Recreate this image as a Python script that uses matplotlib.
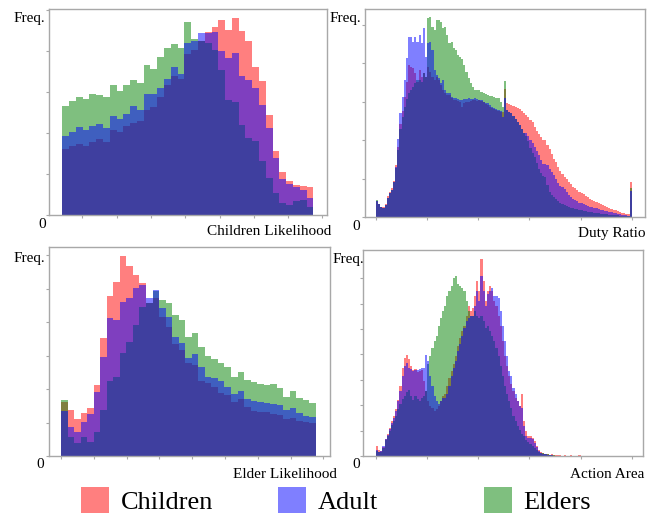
import matplotlib
matplotlib.use('Agg')
import matplotlib.pyplot as plt
import numpy as np

plt.rcParams['font.family'] = ['Liberation Serif', 'DejaVu Serif']

W, H = 663, 515

# ---- panel 1: Children Likelihood (37 bins) ----
cl_children = [66, 69, 71, 69, 73, 76, 73, 85, 83, 89, 92, 94, 105, 108, 118, 130, 139, 136, 161, 165,
               174, 183, 188, 195, 185, 197, 184, 174, 148, 134, 100, 64, 43, 34, 30, 29, 28]
cl_adult = [79, 83, 88, 85, 89, 91, 87, 99, 96, 101, 109, 105, 121, 121, 127, 136, 148, 141, 172, 174,
            182, 182, 183, 164, 157, 162, 139, 135, 127, 110, 87, 57, 36, 31, 28, 25, 17]
cl_elders = [109, 114, 118, 116, 121, 120, 118, 130, 124, 130, 135, 132, 150, 146, 158, 167, 171, 167, 193, 176,
             174, 172, 165, 145, 115, 113, 90, 77, 74, 54, 37, 22, 12, 10, 14, 15, 8]

# ---- panel 2: Duty Ratio (120 bins) ----
dr_children = [16, 13, 10, 10, 13, 21, 25, 29, 36, 52, 70, 93, 106, 120, 135, 152, 150, 149, 144, 135,
               147, 140, 144, 140, 150, 145, 140, 137, 140, 137, 132, 127, 124, 122, 122, 119, 117, 117, 116, 115,
               110, 114, 115, 115, 116, 117, 117, 116, 117, 116, 115, 113, 112, 110, 109, 108, 107, 106, 105, 105,
               128, 114, 113, 112, 111, 110, 109, 108, 106, 104, 102, 100, 97, 95, 90, 86, 83, 80, 77, 77,
               72, 68, 63, 58, 55, 50, 46, 43, 40, 38, 35, 33, 30, 29, 27, 25, 24, 23, 21, 20,
               18, 17, 16, 15, 14, 13, 12, 11, 10, 9, 8, 7, 7, 6, 5, 4, 4, 3, 3, 35]
dr_adult = [16, 13, 10, 9, 12, 19, 24, 27, 35, 50, 78, 104, 120, 137, 159, 180, 180, 175, 180, 175,
            182, 174, 189, 160, 174, 175, 167, 147, 142, 139, 134, 137, 127, 124, 124, 120, 119, 119, 118, 117,
            117, 118, 118, 119, 118, 118, 119, 118, 117, 117, 115, 114, 114, 112, 110, 109, 108, 107, 106, 100,
            119, 107, 105, 104, 101, 98, 95, 92, 88, 84, 84, 81, 77, 74, 70, 66, 62, 57, 53, 53,
            52, 48, 45, 42, 38, 34, 31, 30, 28, 25, 22, 20, 18, 17, 16, 14, 14, 13, 12, 11,
            10, 10, 9, 9, 8, 7, 7, 6, 6, 5, 5, 4, 4, 3, 3, 2, 2, 2, 1, 26]
dr_elders = [17, 13, 10, 9, 12, 19, 24, 27, 35, 49, 67, 88, 100, 110, 118, 124, 127, 130, 134, 137,
             137, 135, 144, 140, 199, 200, 190, 187, 197, 197, 195, 189, 190, 182, 174, 175, 169, 167, 162, 160,
             158, 152, 145, 139, 134, 130, 127, 127, 127, 125, 124, 123, 122, 121, 121, 120, 119, 119, 115, 110,
             136, 107, 105, 104, 101, 98, 95, 92, 88, 84, 81, 76, 69, 64, 60, 54, 48, 44, 41, 40,
             32, 25, 22, 20, 18, 16, 14, 13, 12, 11, 10, 9, 9, 8, 8, 7, 7, 6, 6, 5,
             5, 5, 4, 4, 4, 3, 3, 3, 3, 2, 2, 2, 2, 2, 1, 1, 1, 1, 1, 29]

# ---- panel 3: Elder Likelihood (39 bins) ----
el_children = [54, 46, 37, 43, 48, 71, 118, 160, 174, 200, 190, 181, 173, 153, 158, 139, 129, 112, 106, 93,
               91, 75, 73, 69, 63, 61, 54, 57, 49, 45, 44, 44, 42, 41, 37, 38, 35, 34, 33]
el_adult = [45, 29, 24, 34, 42, 64, 99, 138, 136, 154, 158, 168, 171, 158, 166, 148, 139, 119, 113, 98,
            102, 89, 79, 78, 75, 69, 62, 65, 57, 55, 54, 53, 52, 51, 46, 48, 43, 40, 39]
el_elders = [56, 19, 13, 19, 14, 24, 46, 75, 79, 103, 114, 131, 149, 153, 165, 156, 153, 141, 136, 119,
             123, 109, 100, 97, 93, 89, 79, 84, 76, 74, 72, 71, 72, 68, 59, 65, 58, 56, 53]

# ---- panel 4: Action Area (120 bins) ----
aa_children = [10, 6, 5, 9, 17, 22, 28, 35, 40, 47, 56, 70, 88, 98, 101, 97, 90, 86, 87, 84,
               85, 86, 75, 65, 55, 50, 48, 45, 47, 50, 55, 60, 62, 70, 78, 85, 92, 100, 110, 118,
               125, 130, 140, 150, 145, 148, 160, 175, 165, 197, 175, 155, 165, 170, 165, 155, 150, 140, 130, 115,
               100, 90, 80, 72, 65, 58, 55, 50, 62, 35, 25, 20, 20, 18, 15, 10, 6, 4, 3, 2,
               2, 1, 2, 1, 1, 1, 1, 0, 1, 0, 0, 1, 0, 0, 0, 1] + [0] * 24
aa_adult = [6, 4, 5, 10, 17, 21, 27, 33, 38, 45, 55, 65, 80, 90, 93, 88, 87, 85, 86, 86,
            87, 88, 88, 101, 95, 80, 70, 60, 55, 52, 55, 58, 58, 62, 70, 80, 88, 95, 105, 112,
            120, 128, 135, 138, 140, 140, 150, 165, 155, 180, 165, 150, 162, 165, 168, 160, 160, 158, 145, 130,
            115, 100, 85, 80, 68, 62, 55, 50, 48, 30, 20, 18, 18, 17, 13, 9, 5, 3, 2, 2,
            1, 1, 1] + [0] * 37
aa_elders = [5, 4, 4, 8, 16, 20, 25, 31, 35, 40, 47, 52, 57, 60, 64, 66, 60, 56, 60, 57,
             55, 58, 60, 65, 92, 100, 108, 115, 120, 130, 138, 145, 150, 160, 165, 170, 178, 180, 172, 170,
             168, 165, 155, 145, 140, 140, 145, 140, 138, 140, 135, 128, 130, 125, 120, 115, 108, 100, 90, 80,
             70, 62, 55, 48, 40, 35, 30, 26, 22, 20, 16, 14, 12, 10, 8, 6, 4, 3, 3, 2,
             2, 1, 1, 1] + [0] * 36

names = ['Children', 'Adult', 'Elders']
colors = {'Children': 'red', 'Adult': 'blue', 'Elders': 'green'}
draw_order = ['Children', 'Elders', 'Adult']
GRAY = '#a8a8a8'


def px(x, y):
    return x / W, 1 - y / H


def panel(box, series, xlim, xticks, ylim, ystep, nyt):
    l, t, r, b = box
    ax = fig.add_axes([l / W, 1 - b / H, (r - l) / W, (b - t) / H])
    n = len(series['Children'])
    edges = np.linspace(0, 1, n + 1)
    hs = {}
    for k in draw_order:
        _, _, p = ax.hist(edges[:-1], bins=edges, weights=series[k], histtype='stepfilled',
                          color=colors[k], alpha=0.5, lw=0)
        hs[k] = p[0]
    ax.set_xlim(*xlim)
    ax.set_ylim(0, ylim)
    ax.set_xticks(xticks)
    ax.set_yticks(np.arange(nyt) * ystep)
    ax.tick_params(direction='out', length=2.5, width=0.8, color=GRAY,
                   labelleft=False, labelbottom=False)
    for s in ax.spines.values():
        s.set_color(GRAY)
        s.set_linewidth(1.0)
    return ax, hs


fig = plt.figure(figsize=(W / 100, H / 100), dpi=100)

ax1, hs = panel((49, 9, 327, 215),
                {'Children': cl_children, 'Adult': cl_adult, 'Elders': cl_elders},
                ((49 - 62.3) / 251, (327 - 62.3) / 251), 0.08 + np.arange(8) * 0.1366, 206, 41, 6)
ax2, _ = panel((365, 9, 645, 217),
               {'Children': dr_children, 'Adult': dr_adult, 'Elders': dr_elders},
               (-0.043, 1.052), np.linspace(0, 1, 6), 208, 38.5, 6)
ax3, _ = panel((49, 247, 330, 456),
               {'Children': el_children, 'Adult': el_adult, 'Elders': el_elders},
               (-0.047, 1.055), np.arange(9) * 0.1286, 209, 33.5, 7)
ax4, _ = panel((363, 250, 643, 456),
               {'Children': aa_children, 'Adult': aa_adult, 'Elders': aa_elders},
               (-0.051, 1.044), np.linspace(0, 1, 6), 206, 25.4, 8)

fs = 11
# (Freq. right/top), (0 centre), (xlabel right/centre)
labels = [((45, 12), (42.5, 224.5), (331, 231.5), 'Children Likelihood'),
          ((361, 12), (356.5, 227), (646, 233), 'Duty Ratio'),
          ((45, 252), (40, 464.5), (337, 474), 'Elder Likelihood'),
          ((364, 253), (356, 464.5), (644, 474), 'Action Area')]
for fq, zero, xl, txt in labels:
    fig.text(*px(*fq), 'Freq.', ha='right', va='top', fontsize=fs)
    fig.text(*px(*zero), '0', ha='center', va='center', fontsize=fs)
    fig.text(*px(*xl), txt, ha='right', va='center', fontsize=fs)

# legend entries, placed separately to follow the uneven spacing
for name, x0 in zip(names, [81, 278, 484]):
    fig.legend(handles=[hs[name]], labels=[name], loc='lower left',
               bbox_to_anchor=(x0 / W, 0.002), frameon=False, fontsize=19,
               handlelength=1.05, handleheight=1.1, handletextpad=0.45,
               borderpad=0, borderaxespad=0)

fig.savefig('out.png', dpi=100)
